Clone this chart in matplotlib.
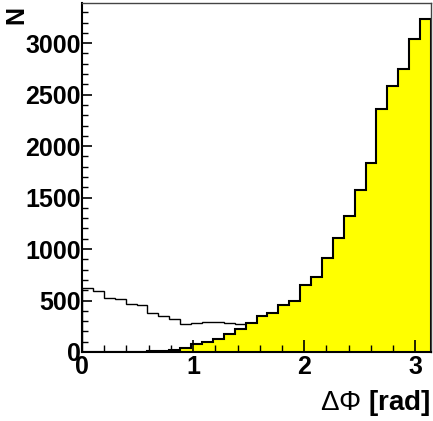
import numpy as np
import matplotlib
matplotlib.use("Agg")
import matplotlib.pyplot as plt
from matplotlib.ticker import MultipleLocator

plt.rcParams['font.family'] = ['Liberation Sans', 'DejaVu Sans']
plt.rcParams['mathtext.fontset'] = 'custom'
plt.rcParams['mathtext.rm'] = 'Liberation Sans'
plt.rcParams['mathtext.it'] = 'Liberation Sans:italic'

# 32 bins from 0 to pi
nbins = 32
edges = np.linspace(0, np.pi, nbins + 1)

# open histogram (black outline)
counts_open = [624, 590, 521, 510, 470, 452, 378, 351, 321, 276, 285, 292,
               292, 283, 274, 268, 262, 258, 255, 252, 250, 248, 246, 245,
               244, 243, 242, 241, 240, 240, 240, 240]

# yellow filled histogram
counts_fill = [0, 0, 0, 0, 0, 3, 7, 12, 20, 42, 78, 97,
               129, 175, 226, 280, 352, 376, 456, 498, 647, 731, 910, 1110,
               1320, 1573, 1832, 2356, 2585, 2750, 3036, 3233]

fig = plt.figure(figsize=(4.33, 4.21), dpi=100)
ax = fig.add_axes([0.1894, 0.1639, 0.806, 0.829])

ax.stairs(counts_open, edges, color='black', linewidth=1.0)
ax.stairs(counts_fill, edges, fill=True, facecolor='#ffff00', linewidth=0)
ax.stairs(counts_fill, edges, color='black', linewidth=1.5)

ax.set_xlim(0, np.pi)
ax.set_ylim(0, 3390)

ax.xaxis.set_major_locator(MultipleLocator(1))
ax.xaxis.set_minor_locator(MultipleLocator(0.2))
ax.yaxis.set_major_locator(MultipleLocator(500))
ax.yaxis.set_minor_locator(MultipleLocator(100))

ax.tick_params(axis='x', which='major', direction='in', length=9, width=1.2, pad=2, labelsize=18)
ax.tick_params(axis='x', which='minor', direction='in', length=5, width=1.0)
ax.tick_params(axis='y', which='major', direction='in', length=7, width=1.2, pad=1, labelsize=18)
ax.tick_params(axis='y', which='minor', direction='in', length=4, width=1.0)
for lab in ax.get_xticklabels() + ax.get_yticklabels():
    lab.set_fontweight('bold')

ax.spines['left'].set_linewidth(1.5)
ax.spines['bottom'].set_linewidth(1.5)
ax.spines['top'].set_linewidth(1.0)
ax.spines['right'].set_linewidth(1.0)
ax.spines['top'].set_color('#444444')
ax.spines['right'].set_color('#444444')

ax.set_xlabel(r'$\Delta\Phi$ [rad]', loc='right', fontsize=20, fontweight='bold', labelpad=7)
ax.set_ylabel('N', fontsize=18, fontweight='bold')
ax.yaxis.set_label_coords(-0.155, 0.965)

fig.savefig('out.png', dpi=100)
